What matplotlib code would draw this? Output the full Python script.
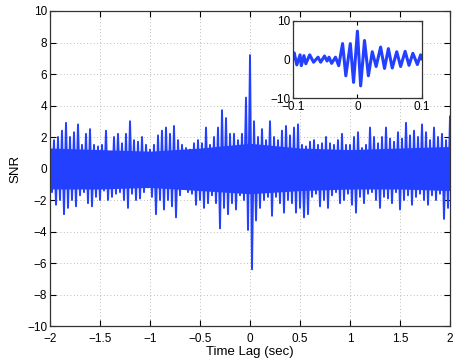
import numpy as np
import matplotlib.pyplot as plt

plt.rcParams['font.family'] = ['Liberation Sans', 'DejaVu Sans']

# upper peaks, t = -2.00, -1.96, ..., 2.00
upper = [1.5, 1.8, 2.0, 2.4, 2.9, 2.0, 2.3, 2.8, 1.5, 2.2,
         2.5, 1.5, 1.4, 1.5, 2.4, 1.0, 2.0, 2.2, 1.6, 2.2,
         3.0, 1.8, 1.7, 2.0, 1.5, 1.2, 1.5, 2.1, 2.4, 2.6,
         2.2, 2.7, 1.8, 1.5, 1.3, 1.2, 1.6, 1.8, 1.6, 2.6,
         1.5, 2.0, 2.6, 3.7, 3.2, 2.2, 2.2, 1.8, 2.2, 4.5,
         7.2,
         3.0, 2.0, 2.5, 1.8, 3.0, 2.0, 1.8, 2.4, 2.7, 2.1,
         2.6, 2.8, 1.5, 1.4, 1.7, 1.8, 1.5, 1.6, 2.0, 1.6,
         1.5, 1.8, 2.2, 1.5, 1.5, 2.0, 2.3, 1.3, 1.5, 2.6,
         2.0, 1.6, 2.0, 2.6, 1.9, 1.7, 2.3, 1.9, 2.9, 2.1,
         2.4, 2.0, 2.8, 2.3, 1.8, 2.6, 2.0, 2.2, 1.8, 3.3]

# lower troughs, t = -1.98, -1.94, ..., 1.98
lower = [-1.5, -2.3, -2.0, -2.9, -2.5, -2.0, -2.4, -1.7, -1.5, -2.2,
         -2.4, -1.8, -2.0, -1.4, -2.0, -1.8, -1.6, -1.5, -2.0, -2.5,
         -1.6, -2.0, -1.9, -1.5, -1.2, -1.8, -2.9, -2.0, -2.6, -2.0,
         -2.4, -3.1, -1.7, -1.3, -1.5, -1.6, -2.3, -2.0, -2.5, -2.2,
         -1.7, -2.2, -3.8, -2.5, -2.9, -2.2, -2.6, -1.7, -2.0, -3.9,
         -6.4, -3.3, -2.5, -2.0, -1.8, -3.0, -1.8, -2.2, -2.8, -2.0,
         -2.2, -2.8, -2.5, -3.1, -2.9, -1.8, -1.6, -2.4, -2.0, -2.5,
         -1.7, -1.5, -2.2, -2.0, -1.6, -2.3, -2.8, -1.8, -2.2, -1.6,
         -1.5, -2.0, -2.5, -1.8, -1.9, -2.2, -1.5, -2.6, -2.0, -1.7,
         -2.3, -1.8, -1.6, -2.0, -2.3, -1.7, -2.0, -1.6, -3.2, -2.5]

# solid core of the dense trace, read every 0.5 s
core_t = [-2, -1.5, -1, -0.5, 0, 0.5, 1, 1.5, 2]
core_hi = [1.3, 1.2, 1.1, 1.3, 1.6, 1.3, 1.2, 1.3, 1.4]
core_lo = [-1.3, -1.3, -1.2, -1.4, -1.6, -1.4, -1.3, -1.3, -1.4]

# inset: extrema of the zoomed trace
inset_t = [-0.100, -0.098, -0.094, -0.089, -0.087, -0.083, -0.080, -0.074,
           -0.068, -0.061, -0.057, -0.051, -0.047, -0.044, -0.040, -0.034,
           -0.029, -0.023, -0.018, -0.011, -0.006, 0.000, 0.005, 0.011,
           0.017, 0.023, 0.029, 0.036, 0.042, 0.048, 0.054, 0.061,
           0.067, 0.074, 0.080, 0.086, 0.093, 0.098, 0.100]
inset_snr = [0.6, 1.7, -1.4, 1.2, -1.6, 1.0, -1.1, 1.2,
             -0.7, 0.6, -0.7, 0.9, -0.4, 0.6, -1.0, 0.6,
             -1.6, 4.1, -4.2, 4.1, -5.9, 7.3, -6.8, 4.9,
             -4.2, 2.0, -1.8, 3.2, -2.3, 2.8, -2.2, 2.0,
             -1.8, 2.1, -1.5, 1.6, -1.3, 1.2, 0.2]

snr = np.empty(len(upper) + len(lower))
snr[0::2] = upper
snr[1::2] = lower
t = np.linspace(-2, 2, len(snr))

blue = '#2440ff'
edge = '#333333'

fig = plt.figure(figsize=(4.57, 3.63), dpi=100)
ax = fig.add_axes([0.1094, 0.1019, 0.8753, 0.8678])
ax.fill_between(core_t, core_lo, core_hi, color=blue, lw=0)
ax.plot(t, snr, color=blue, lw=1.4)
ax.set_xlim(-2, 2)
ax.set_ylim(-10, 10)
ax.set_xticks(np.arange(-2, 2.01, 0.5))
ax.set_xticklabels(['\u22122', '\u22121.5', '\u22121', '\u22120.5', '0', '0.5', '1', '1.5', '2'])
ax.set_yticks(np.arange(-10, 11, 2))
ax.set_yticklabels([str(v).replace('-', '\u2212') for v in range(-10, 11, 2)])
ax.grid(True, linestyle=(0, (1, 3)), lw=0.6, color='0.65')
ax.set_axisbelow(True)
ax.tick_params(direction='in', top=True, right=True, length=4, width=0.8,
               labelsize=8.5, colors='black')
ax.tick_params(axis='x', pad=5)
ax.tick_params(axis='y', pad=2)
for s in ax.spines.values():
    s.set_color(edge)
    s.set_linewidth(0.9)
ax.set_xlabel('Time Lag (sec)', fontsize=9.5, labelpad=1)
ax.set_ylabel('SNR', fontsize=9.5, labelpad=4)

ins = fig.add_axes([0.641, 0.7292, 0.2822, 0.2138])
ins.plot(inset_t, inset_snr, color=blue, lw=2.2)
ins.set_xlim(-0.1, 0.1)
ins.set_ylim(-10, 10)
ins.set_xticks([-0.1, 0, 0.1])
ins.set_xticklabels(['\u22120.1', '0', '0.1'])
ins.set_yticks([-10, 0, 10])
ins.set_yticklabels(['\u221210', '0', '10'])
ins.tick_params(direction='in', top=True, right=True, length=3, width=0.8,
                labelsize=8.5, pad=2)
for s in ins.spines.values():
    s.set_color(edge)
    s.set_linewidth(0.9)

fig.savefig('out.png', dpi=100)
